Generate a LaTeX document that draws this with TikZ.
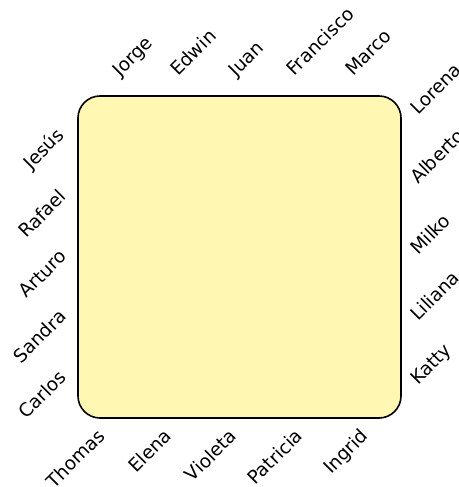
\documentclass[tikz,border=0pt]{standalone}
\usepackage{fontspec}
\setmainfont{DejaVu Sans}
\definecolor{boxfill}{RGB}{255,247,178}
\begin{document}
\begin{tikzpicture}[x=1pt,y=-1pt,
  lbl/.style={font=\fontsize{18.5}{20}\selectfont, inner sep=0pt, rotate=45},
  top/.style={lbl, anchor=base west},
  left/.style={lbl, anchor=south east},
  right/.style={lbl, anchor=base west},
  bottom/.style={lbl, anchor=north east},
  board/.style={draw=black, line width=1.6pt, fill=boxfill, rounded corners=22pt}]
\useasboundingbox (0,0) rectangle (458,487);
\draw[board] (78,96) rectangle (401,418);
% top
\node[top] (jorge) at (120,78) {Jorge};
\node[top] (edwin) at (178,77) {Edwin};
\node[top] (juan) at (236,78) {Juan};
\node[top] (francisco) at (294,77) {Francisco};
\node[top] (marco) at (353,77) {Marco};
% left
\node[left] (jesus) at (68,139) {Jesús};
\node[left] (rafael) at (68,198) {Rafael};
\node[left] (arturo) at (68,258) {Arturo};
\node[left] (sandra) at (68,318) {Sandra};
\node[left] (carlos) at (68,379) {Carlos};
% right
\node[right] (lorena) at (418,116) {Lorena};
\node[right] (alberto) at (418,185) {Alberto};
\node[right] (milko) at (418,256) {Milko};
\node[right] (liliana) at (418,322) {Liliana};
\node[right] (katty) at (418,386) {Katty};
% bottom
\node[bottom] (thomas) at (96,427) {Thomas};
\node[bottom] (elena) at (163,427) {Elena};
\node[bottom] (violeta) at (228,427) {Violeta};
\node[bottom] (patricia) at (294,427) {Patricia};
\node[bottom] (ingrid) at (359,427) {Ingrid};
\end{tikzpicture}
\end{document}
